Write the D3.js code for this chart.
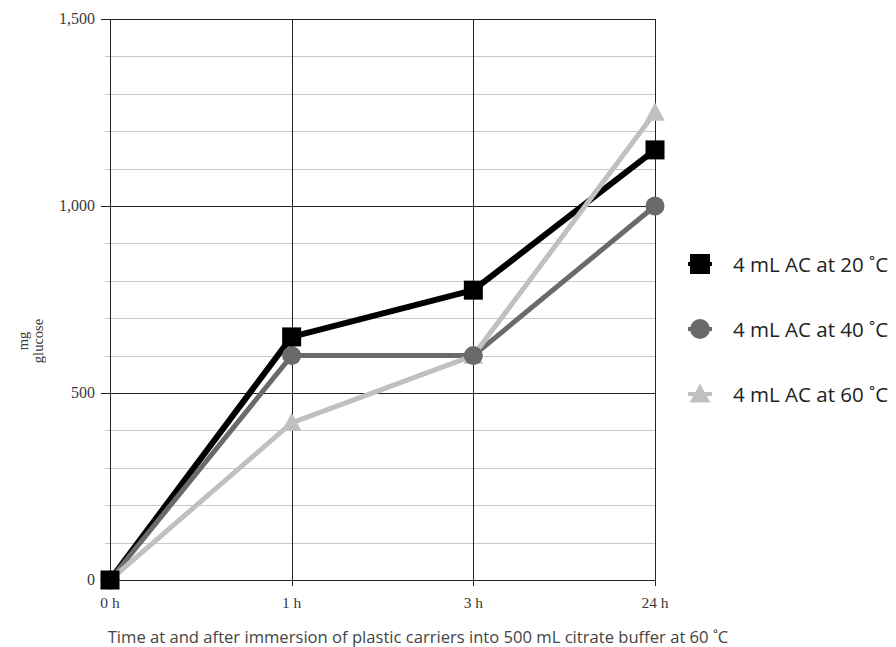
<!DOCTYPE html>
<html>
<head>
<meta charset="utf-8">
<script src="https://cdn.jsdelivr.net/npm/d3@7"></script>
<style>
  html, body { margin: 0; padding: 0; background: #fff; }
  svg { display: block; }
</style>
</head>
<body>
<svg id="chart" width="896" height="647"></svg>
<script>
// Sampling times and measured glucose (mg)
const categories = ["0 h", "1 h", "3 h", "24 h"];
const seriesNames = ["4 mL AC at 20 ˚C", "4 mL AC at 40 ˚C", "4 mL AC at 60 ˚C"];
const ac20 = [0, 650, 775, 1150];
const ac40 = [0, 600, 600, 1000];
const ac60 = [0, 420, 600, 1250];
const majorTicks = [0, 500, 1000, 1500];
const minorTicks = [100, 200, 300, 400, 600, 700, 800, 900, 1100, 1200, 1300, 1400];
const xTitle = "Time at and after immersion of plastic carriers into 500 mL citrate buffer at 60 ˚C";
const yTitleLines = ["mg", "glucose"];

(function () {
const series = [
  { name: seriesNames[0], values: ac20, color: "#000000", shape: "square", width: 6 },
  { name: seriesNames[1], values: ac40, color: "#6a6a6a", shape: "circle", width: 5 },
  { name: seriesNames[2], values: ac60, color: "#c0c0c0", shape: "triangle", width: 5 }
];

const svg = d3.select("#chart");
const plotLeft = 110, plotRight = 655, plotTop = 19, plotBottom = 580;

const x = d3.scalePoint().domain(categories).range([plotLeft, plotRight]);
const y = d3.scaleLinear().domain([0, 1500]).range([plotBottom, plotTop]);

// minor gridlines
svg.append("g").selectAll("line").data(minorTicks).join("line")
  .attr("x1", plotLeft - 5).attr("x2", plotRight)
  .attr("y1", d => Math.round(y(d)) + 0.5).attr("y2", d => Math.round(y(d)) + 0.5)
  .attr("stroke", "#c8c8c8").attr("stroke-width", 1);

// major gridlines
svg.append("g").selectAll("line").data(majorTicks).join("line")
  .attr("x1", plotLeft - 9).attr("x2", plotRight)
  .attr("y1", d => Math.round(y(d)) + 0.5).attr("y2", d => Math.round(y(d)) + 0.5)
  .attr("stroke", "#222").attr("stroke-width", 1);

// vertical gridlines at each time point
svg.append("g").selectAll("line").data(categories).join("line")
  .attr("x1", d => Math.round(x(d)) + 0.5).attr("x2", d => Math.round(x(d)) + 0.5)
  .attr("y1", plotTop).attr("y2", plotBottom + 6)
  .attr("stroke", "#222").attr("stroke-width", 1);

// y tick labels
svg.append("g").selectAll("text").data(majorTicks).join("text")
  .attr("x", 95).attr("y", d => y(d) + 5)
  .attr("text-anchor", "end")
  .attr("font-family", "Liberation Serif, serif").attr("font-size", 16)
  .attr("fill", "#3a3a3a")
  .text(d => d3.format(",")(d));

// x tick labels
svg.append("g").selectAll("text").data(categories).join("text")
  .attr("x", d => x(d)).attr("y", 608)
  .attr("text-anchor", "middle")
  .attr("font-family", "Liberation Serif, serif").attr("font-size", 15.5)
  .attr("fill", "#3a3a3a")
  .text(d => d);

// y axis title (two stacked lines, rotated)
const yt = svg.append("text")
  .attr("transform", "translate(28,341) rotate(-90)")
  .attr("text-anchor", "middle")
  .attr("font-family", "Liberation Serif, serif").attr("font-size", 14.5)
  .attr("fill", "#3a3a3a");
yTitleLines.forEach((t, i) => {
  yt.append("tspan").attr("x", 0).attr("dy", i === 0 ? 0 : 15).text(t);
});

// x axis title
svg.append("text")
  .attr("x", 418).attr("y", 643)
  .attr("text-anchor", "middle")
  .attr("font-family", "Open Sans, sans-serif").attr("font-size", 16.6)
  .attr("fill", "#444")
  .text(xTitle);

const line = d3.line().x((d, i) => x(categories[i])).y(d => y(d));

// lines
svg.append("g").selectAll("path").data(series).join("path")
  .attr("d", s => line(s.values))
  .attr("fill", "none")
  .attr("stroke", s => s.color)
  .attr("stroke-width", s => s.width)
  .attr("stroke-linejoin", "round");

function marker(g, shape, color, size) {
  if (shape === "square") {
    g.append("rect").attr("x", -size / 2).attr("y", -size / 2)
      .attr("width", size).attr("height", size).attr("fill", color);
  } else if (shape === "circle") {
    g.append("circle").attr("r", size / 2).attr("fill", color);
  } else {
    const h = size;
    g.append("path")
      .attr("d", `M0,${-h * 0.53}L${h * 0.52},${h * 0.43}L${-h * 0.52},${h * 0.43}Z`)
      .attr("fill", color);
  }
}

// markers, light series first so darker ones sit on top
series.slice().reverse().forEach(s => {
  s.values.forEach((v, i) => {
    const g = svg.append("g").attr("transform", `translate(${x(categories[i])},${y(v)})`);
    marker(g, s.shape, s.color, 19);
  });
});

// legend
const legend = svg.append("g");
series.forEach((s, i) => {
  const cy = 264 + i * 65;
  const g = legend.append("g").attr("transform", `translate(700,${cy})`);
  g.append("line").attr("x1", -12).attr("x2", 12).attr("y1", 0).attr("y2", 0)
    .attr("stroke", s.color).attr("stroke-width", 4);
  marker(g, s.shape, s.color, 20);
  legend.append("text")
    .attr("x", 733).attr("y", cy + 8)
    .attr("font-family", "Open Sans, sans-serif").attr("font-size", 20.5)
    .attr("fill", "#222")
    .text(s.name);
});
})();
</script>
</body>
</html>
